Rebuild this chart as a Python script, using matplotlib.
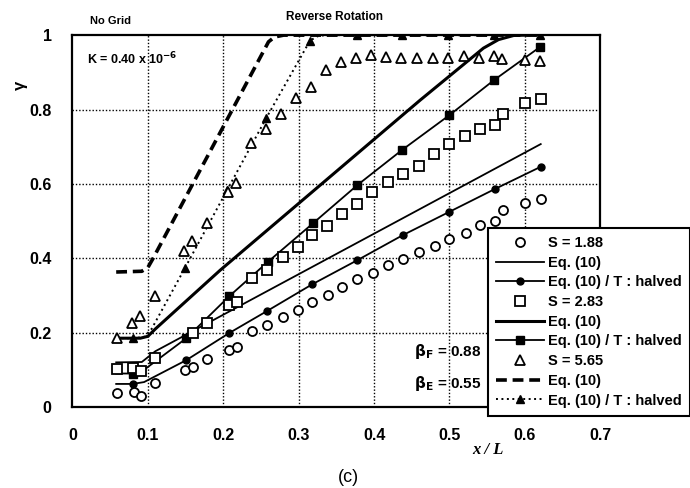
import matplotlib
matplotlib.use("Agg")
import matplotlib.pyplot as plt

plt.rcParams['font.family'] = ['Liberation Sans', 'DejaVu Sans']

# Measured concentration ratio gamma along x/L
s188_x = [0.059, 0.082, 0.091, 0.109, 0.149, 0.160, 0.179, 0.208, 0.218, 0.238,
          0.258, 0.279, 0.299, 0.318, 0.339, 0.358, 0.378, 0.398, 0.419, 0.438,
          0.459, 0.481, 0.500, 0.522, 0.541, 0.560, 0.571, 0.600, 0.621]
s188_y = [0.038, 0.040, 0.030, 0.065, 0.100, 0.108, 0.129, 0.153, 0.162, 0.204,
          0.220, 0.242, 0.260, 0.282, 0.300, 0.323, 0.344, 0.360, 0.382, 0.398,
          0.417, 0.433, 0.452, 0.468, 0.490, 0.500, 0.530, 0.549, 0.559]

s283_x = [0.059, 0.080, 0.091, 0.109, 0.160, 0.179, 0.208, 0.218, 0.238, 0.258,
          0.279, 0.299, 0.318, 0.337, 0.357, 0.377, 0.397, 0.418, 0.438, 0.459,
          0.479, 0.500, 0.520, 0.540, 0.560, 0.571, 0.600, 0.621]
s283_y = [0.102, 0.105, 0.097, 0.132, 0.199, 0.226, 0.274, 0.282, 0.347, 0.368,
          0.403, 0.430, 0.462, 0.487, 0.520, 0.545, 0.578, 0.605, 0.626, 0.648,
          0.680, 0.707, 0.728, 0.747, 0.758, 0.788, 0.817, 0.828]

s565_x = [0.059, 0.079, 0.089, 0.110, 0.148, 0.159, 0.178, 0.206, 0.217, 0.237,
          0.257, 0.277, 0.297, 0.316, 0.336, 0.356, 0.376, 0.396, 0.416, 0.436,
          0.457, 0.478, 0.498, 0.519, 0.539, 0.559, 0.570, 0.600, 0.620]
s565_y = [0.185, 0.226, 0.245, 0.298, 0.419, 0.446, 0.494, 0.577, 0.602, 0.711,
          0.748, 0.787, 0.831, 0.861, 0.905, 0.927, 0.939, 0.946, 0.940, 0.939,
          0.939, 0.938, 0.938, 0.943, 0.938, 0.943, 0.935, 0.933, 0.930]

# Eq. (10) predictions
eq188_x = [0.058, 0.092, 0.110, 0.621]
eq188_y = [0.120, 0.121, 0.150, 0.707]

eq283_x = [0.059, 0.090, 0.100, 0.110, 0.196, 0.461, 0.545, 0.565, 0.585, 0.600]
eq283_y = [0.185, 0.185, 0.190, 0.210, 0.368, 0.825, 0.965, 0.988, 0.999, 1.000]

eq565_x = [0.058, 0.092, 0.100, 0.107, 0.260, 0.268, 0.280, 0.620]
eq565_y = [0.363, 0.365, 0.375, 0.400, 0.982, 0.995, 1.000, 1.000]

# Eq. (10) with T halved (markers at every computed station)
half188_x = [0.058, 0.080, 0.095, 0.151, 0.208, 0.258, 0.318, 0.378, 0.438, 0.499, 0.560, 0.621]
half188_y = [0.062, 0.062, 0.067, 0.126, 0.199, 0.258, 0.330, 0.395, 0.462, 0.524, 0.586, 0.646]
half188_marks = [1, 3, 4, 5, 6, 7, 8, 9, 10, 11]

half283_x = [0.058, 0.080, 0.095, 0.151, 0.208, 0.259, 0.319, 0.378, 0.437, 0.500, 0.559, 0.620]
half283_y = [0.090, 0.090, 0.100, 0.185, 0.298, 0.390, 0.494, 0.597, 0.691, 0.785, 0.879, 0.968]
half283_marks = [1, 3, 4, 5, 6, 7, 8, 9, 10, 11]

half565_x = [0.058, 0.080, 0.095, 0.105, 0.149, 0.205, 0.257, 0.315, 0.325, 0.335,
             0.377, 0.437, 0.498, 0.559, 0.620]
half565_y = [0.185, 0.185, 0.188, 0.210, 0.373, 0.583, 0.777, 0.985, 0.997, 1.000,
             1.000, 1.000, 1.000, 1.000, 1.000]
half565_marks = [1, 4, 5, 6, 7, 10, 11, 12, 13, 14]

x_ticks = [0, 0.1, 0.2, 0.3, 0.4, 0.5, 0.6, 0.7]
x_ticklabels = ['0', '0.1', '0.2', '0.3', '0.4', '0.5', '0.6', '0.7']
y_ticks = [0, 0.2, 0.4, 0.6, 0.8, 1.0]
y_ticklabels = ['0', '0.2', '0.4', '0.6', '0.8', '1']

fig = plt.figure(figsize=(6.9, 4.88), dpi=100)
ax = fig.add_axes([0.105, 0.166, 0.765, 0.762])
ax.set_xlim(0, 0.7)
ax.set_ylim(0, 1)

ax.set_xticks(x_ticks)
ax.set_xticklabels(x_ticklabels)
ax.set_yticks(y_ticks)
ax.set_yticklabels(y_ticklabels)
ax.tick_params(direction='in', length=0, pad=15, labelsize=11.5)
for lab in ax.get_xticklabels() + ax.get_yticklabels():
    lab.set_fontweight('bold')
for sp in ax.spines.values():
    sp.set_linewidth(1.6)

grid_style = dict(color='black', linestyle=(0, (1, 1.4)), linewidth=1.0, zorder=1)
for gx in x_ticks[1:-1]:
    ax.axvline(gx, **grid_style)
for gy in y_ticks[1:-1]:
    ax.axhline(gy, **grid_style)

open_style = dict(linestyle='none', markerfacecolor='white', markeredgecolor='black',
                  markeredgewidth=1.3, markersize=6.5, zorder=4)

h1, = ax.plot(s188_x, s188_y, marker='o', **open_style)
h2, = ax.plot(eq188_x, eq188_y, color='black', lw=1.3, zorder=3)
h3, = ax.plot(half188_x, half188_y, color='black', lw=1.3, marker='o', markersize=5,
              markevery=half188_marks, zorder=3)

h4, = ax.plot(s283_x, s283_y, marker='s', **open_style)
h5, = ax.plot(eq283_x, eq283_y, color='black', lw=2.2, zorder=3)
h6, = ax.plot(half283_x, half283_y, color='black', lw=1.3, marker='s', markersize=5.5,
              markevery=half283_marks, zorder=3)

h7, = ax.plot(s565_x, s565_y, marker='^', **open_style)
h8, = ax.plot(eq565_x, eq565_y, color='black', lw=2.6, linestyle=(0, (3, 1.6)), zorder=3)
h9, = ax.plot(half565_x, half565_y, color='black', lw=1.4, linestyle=(0, (1, 1.8)),
              marker='^', markersize=5.5, markevery=half565_marks, zorder=3)

fig.text(111 / 690, 1 - 21 / 488, 'No Grid', ha='center', va='center', fontsize=8, fontweight='bold')
fig.text(335 / 690, 1 - 17 / 488, 'Reverse Rotation', ha='center', va='center', fontsize=8.5, fontweight='bold')
ax.text(0.019, 0.935, r'K = 0.40 x 10$^{\mathbf{-6}}$', fontsize=9, fontweight='bold', va='center', ha='left')
fig.text(20 / 690, 1 - 85 / 488, 'γ', rotation=90, ha='center', va='center', fontsize=12,
         fontweight='bold')

ax.text(0.543, 0.149, r'$\mathbf{\beta_F}$ = 0.88', fontsize=11, fontweight='bold', ha='right', va='center')
ax.text(0.543, 0.064, r'$\mathbf{\beta_E}$ = 0.55', fontsize=11, fontweight='bold', ha='right', va='center')

fig.text(488 / 690, 1 - 450 / 488, 'x / L', ha='center', va='center', fontsize=12,
         family='Liberation Serif', style='italic', fontweight='bold')
fig.text(348 / 690, 1 - 477 / 488, '(c)', ha='center', va='center', fontsize=13)

leg = ax.legend([h1, h2, h3, h4, h5, h6, h7, h8, h9],
                ['S = 1.88', 'Eq. (10)', 'Eq. (10) / T : halved',
                 'S = 2.83', 'Eq. (10)', 'Eq. (10) / T : halved',
                 'S = 5.65', 'Eq. (10)', 'Eq. (10) / T : halved'],
                loc='upper left', bbox_to_anchor=(488 / 690, 1 - 228 / 488),
                bbox_transform=fig.transFigure, borderaxespad=0, fancybox=False,
                framealpha=1, edgecolor='black', handlelength=3.3, handletextpad=0.25,
                labelspacing=0.39, borderpad=0.55, numpoints=1,
                prop={'size': 10.5, 'weight': 'bold'})
leg.get_frame().set_linewidth(1.5)
leg.set_zorder(10)

fig.savefig('out.png', dpi=100)
